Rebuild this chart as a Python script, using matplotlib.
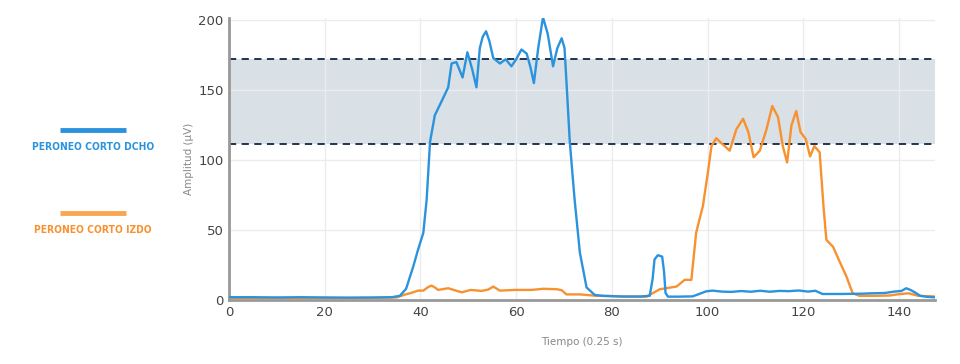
import matplotlib
matplotlib.use("Agg")
import matplotlib.pyplot as plt

# ---- data ----
blue_x = [0, 5, 10, 15, 20, 25, 30, 34, 35.7, 37, 38.5, 39.5, 40.6, 41.3, 42.0, 43.0, 44.7, 45.8,
          46.5, 47.5, 48.8, 49.8, 50.8, 51.7, 52.4, 53.0, 53.7, 54.4, 55.2, 56.6, 57.8, 59.0,
          60.0, 61.1, 62.2, 63.0, 63.7, 64.6, 65.6, 66.6, 67.7, 68.6, 69.5, 70.1, 70.6, 71.2,
          72.2, 73.3, 74.7, 76.4, 78, 82, 86, 87.9, 88.5, 88.9, 89.6, 90.5, 90.9, 91.2, 91.7,
          94, 96.9, 99.7, 101, 103, 105, 107, 109, 111, 113, 115, 117, 119, 121, 122.5, 124,
          128, 132, 134.5, 137, 139, 140.5, 141.5, 142.5, 143.5, 144.4, 146, 147.5]
blue_y = [2, 2, 1.8, 2, 1.8, 1.7, 1.8, 2, 3, 8, 24, 36, 48, 72, 113, 132, 144, 152,
          169, 170, 159, 177, 165, 152, 180, 188, 192, 185, 173, 169, 172, 167,
          172, 179, 176, 166, 155, 180, 202, 190, 167, 180, 187, 180, 150, 113,
          72, 34, 9, 3.6, 3, 2.5, 2.5, 3, 15, 29, 32, 31, 20, 5, 2.4,
          2.4, 2.6, 6.2, 6.7, 6.0, 5.8, 6.4, 5.9, 6.6, 5.9, 6.5, 6.3, 6.8, 6.0, 6.6, 4.3,
          4.3, 4.5, 4.8, 5.0, 6.0, 6.5, 8.4, 7.0, 5.0, 3.0, 2.2, 1.9]

orange_x = [0, 5, 10, 15, 20, 25, 30, 35, 36.5, 38, 39.5, 40.6, 41.5, 42.3, 43.0, 43.7, 45.8,
            48.6, 50.5, 52.8, 54.2, 55.2, 56.6, 59.7, 63.2, 65.6, 68.5, 69.5, 70.5, 73.3, 76.8,
            80, 83, 87.2, 90, 93.5, 95.2, 96.6, 97.6, 98.3, 99.0, 100.0, 100.8, 101.8, 102.9,
            104.6, 106.0, 107.4, 108.5, 109.6, 110.9, 112.3, 113.5, 114.7, 115.7, 116.6, 117.5,
            118.5, 119.4, 120.5, 121.4, 122.3, 123.4, 124.2, 124.8, 126.2, 127.5, 129, 130.3,
            131.7, 135, 138, 140, 142, 144, 147.5]
orange_y = [1.5, 1.4, 1.5, 1.3, 1.5, 1.4, 1.5, 1.8, 3.6, 5, 6.7, 6.7, 9, 10.3, 9, 7.2, 8.4,
            5.5, 7.2, 6.5, 7.5, 9.6, 6.7, 7.2, 7.2, 8, 7.7, 7, 4, 4, 3,
            2.8, 2.4, 2.4, 7.7, 9.6, 14.4, 14.4, 48, 57.6, 67, 90, 110, 115.6, 112,
            106.7, 122, 129.5, 120, 102, 106.7, 122, 138.6, 130.7, 110, 98.3, 124.7,
            135, 120, 115, 102.6, 110, 105.5, 67, 43, 38, 28, 16.8, 4.8,
            3, 3, 3.2, 4.2, 4.8, 3, 2.5]

band_low = 111.5
band_high = 172.5
x_ticks = [0, 20, 40, 60, 80, 100, 120, 140]
y_ticks = [0, 50, 100, 150, 200]
legend_labels = ["PERONEO CORTO DCHO", "PERONEO CORTO IZDO"]

BLUE = "#2b93de"
ORANGE = "#f8912f"

fig = plt.figure(figsize=(9.6, 3.64), dpi=100)
ax = fig.add_axes([229 / 960, 1 - 300 / 364, (935 - 229) / 960, (300 - 18) / 364])

ax.axhspan(band_low, band_high, color="#d9e0e6", zorder=0, lw=0)
ax.axhline(band_high, color="#0f2744", lw=1.3, ls=(0, (4, 3)), zorder=2)
ax.axhline(band_low, color="#0f2744", lw=1.3, ls=(0, (4, 3)), zorder=2)

ax.plot(orange_x, orange_y, color=ORANGE, lw=1.7, zorder=3, solid_joinstyle="round")
ax.plot(blue_x, blue_y, color=BLUE, lw=1.7, zorder=4, solid_joinstyle="round")

ax.set_xlim(0, 147.5)
ax.set_ylim(0, 201.5)
ax.set_xticks(x_ticks)
ax.set_yticks(y_ticks)
ax.grid(True, color="#ececec", lw=1, zorder=0)
ax.set_axisbelow(True)
ax.tick_params(length=0, labelsize=9.5, labelcolor="#444444", pad=4)
for s in ["top", "right"]:
    ax.spines[s].set_visible(False)
for s in ["left", "bottom"]:
    ax.spines[s].set_color("#999999")
    ax.spines[s].set_linewidth(2)

ax.set_ylabel("Amplitud (µV)", fontsize=7.5, color="#888888", labelpad=3)
ax.set_xlabel("Tiempo (0.25 s)", fontsize=7.5, color="#888888", labelpad=13)

# legend drawn at the left
for i, (lab, col, lcol) in enumerate([(legend_labels[0], BLUE, "#2b93de"),
                                       (legend_labels[1], ORANGE, "#f9a650")]):
    ly = [130, 213][i]
    ty = [147, 230][i]
    fig.add_artist(plt.Line2D([60 / 960, 126 / 960], [1 - ly / 364, 1 - ly / 364],
                              color=lcol, lw=3.5, solid_capstyle="butt"))
    fig.text(93 / 960, 1 - ty / 364, lab, color=col, fontsize=7.4, fontweight="bold",
             family="DejaVu Sans", fontstretch="condensed", ha="center", va="center")

fig.savefig("out.png", dpi=100, facecolor="white")
